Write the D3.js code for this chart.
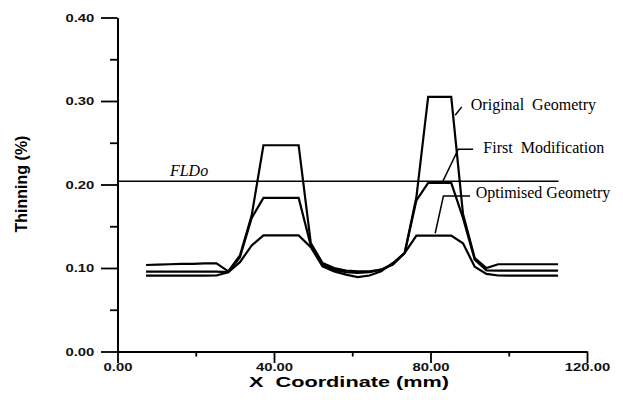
<!DOCTYPE html>
<html>
<head>
<meta charset="utf-8">
<script src="https://cdn.jsdelivr.net/npm/d3@7"></script>
<style>
body { margin: 0; background: #fff; }
</style>
</head>
<body>
<script>
// node positions along the section (mm)
var xNodes = [7.3, 10.3, 13.3, 16.3, 19.3, 22.3, 25.3, 28.3, 31.3, 34.3,
	37.3, 40.3, 43.3, 46.3, 49.4, 52.4, 55.4, 58.4, 61.4, 64.4,
	67.4, 70.4, 73.4, 76.4, 79.4, 82.3, 85.3, 88.3, 91.3, 94.3,
	97.3, 100.3, 103.3, 106.3, 109.3, 112.6];

var originalGeometry = [0.1036, 0.104, 0.1045, 0.105, 0.105, 0.1055, 0.1055, 0.096, 0.115, 0.163,
	0.247, 0.247, 0.247, 0.247, 0.130, 0.106, 0.100, 0.097, 0.096, 0.096,
	0.098, 0.104, 0.118, 0.185, 0.305, 0.305, 0.305, 0.165, 0.112, 0.100,
	0.1045, 0.1045, 0.1045, 0.1045, 0.1045, 0.1045];

var firstModification = [0.0956, 0.0956, 0.0956, 0.0956, 0.0956, 0.0956, 0.0956, 0.095, 0.113, 0.160,
	0.184, 0.184, 0.184, 0.184, 0.127, 0.104, 0.098, 0.095, 0.094, 0.095,
	0.098, 0.105, 0.118, 0.181, 0.202, 0.202, 0.202, 0.160, 0.110, 0.097,
	0.0968, 0.0968, 0.0968, 0.0968, 0.0968, 0.0968];

var optimisedGeometry = [0.0908, 0.0908, 0.0908, 0.0908, 0.0908, 0.0908, 0.091, 0.095, 0.107, 0.127,
	0.139, 0.139, 0.139, 0.139, 0.125, 0.102, 0.096, 0.092, 0.089, 0.091,
	0.096, 0.106, 0.118, 0.1387, 0.1387, 0.1387, 0.1387, 0.1296, 0.1016, 0.093,
	0.091, 0.0908, 0.0908, 0.0908, 0.0908, 0.0908];

var fldoValue = 0.204;
var fldoRange = [0, 112.7];

var xTicks = [0, 40, 80, 120];
var xMinorTicks = [20, 60, 100];
var yTicks = [0, 0.1, 0.2, 0.3, 0.4];
var yMinorTicks = [0.05, 0.15, 0.25, 0.35];

var labelNames = ["Original  Geometry", "First  Modification", "Optimised Geometry"];
var labelX = [90.3, 93.5, 91.55];
var labelY = [0.289, 0.2374, 0.1835];

var pointerOriginal = [[86.3, 0.283], [88.0, 0.293]];
var pointerFirst = [[82.9, 0.2014], [87.1, 0.2422], [90.9, 0.2422]];
var pointerOptimised = [[81.2, 0.1416], [83.3, 0.1862], [90.1, 0.1862]];

var canvasWidth = 623;
var canvasHeight = 400;
var margin = {top: 17.5, right: 36, bottom: 48.5, left: 117.5};

var svg = d3.select("body").append("svg")
	.attr("width", canvasWidth)
	.attr("height", canvasHeight);

var xScale = d3.scaleLinear()
	.domain([0, 120])
	.range([margin.left, canvasWidth - margin.right]);

var yScale = d3.scaleLinear()
	.domain([0, 0.4])
	.range([canvasHeight - margin.bottom, margin.top]);

function styleAxis(g) {
	g.select(".domain").attr("stroke", "#000").attr("stroke-width", 2);
	g.selectAll(".tick line").attr("stroke", "#000").attr("stroke-width", 1.8);
	g.selectAll(".tick text")
		.attr("fill", "#111")
		.style("font-family", "'Liberation Sans', Arial, sans-serif")
		.style("font-weight", "bold")
		.style("font-size", "11px");
}

// x axis, major + minor
var xAxisG = svg.append("g")
	.attr("transform", "translate(0," + yScale(0) + ")")
	.call(d3.axisBottom(xScale)
		.tickValues(xTicks)
		.tickSize(11.5)
		.tickSizeOuter(0)
		.tickPadding(0)
		.tickFormat(d3.format(".2f")));
styleAxis(xAxisG);
xAxisG.selectAll(".tick text").attr("transform", "scale(1.35,1)");

var xMinorG = svg.append("g")
	.attr("transform", "translate(0," + yScale(0) + ")")
	.call(d3.axisBottom(xScale).tickValues(xMinorTicks).tickSize(5).tickFormat(""));
xMinorG.select(".domain").remove();
styleAxis(xMinorG);

// y axis, major + minor
var yAxisG = svg.append("g")
	.attr("transform", "translate(" + xScale(0) + ",0)")
	.call(d3.axisLeft(yScale)
		.tickValues(yTicks)
		.tickSize(16.5)
		.tickSizeOuter(0)
		.tickFormat(d3.format(".2f")));
styleAxis(yAxisG);
yAxisG.selectAll(".tick text")
	.attr("x", -23.2 / 1.35)
	.attr("transform", "scale(1.35,1)");

var yMinorG = svg.append("g")
	.attr("transform", "translate(" + xScale(0) + ",0)")
	.call(d3.axisLeft(yScale).tickValues(yMinorTicks).tickSize(7.5).tickFormat(""));
yMinorG.select(".domain").remove();
styleAxis(yMinorG);

// axis titles
svg.append("text")
	.attr("transform", "translate(349," + 386.5 + ") scale(1.55,1)")
	.attr("text-anchor", "middle")
	.style("font-family", "'Liberation Sans', Arial, sans-serif")
	.style("font-weight", "bold")
	.style("font-size", "14px")
	.style("white-space", "pre")
	.text("X  Coordinate (mm)");

svg.append("text")
	.attr("transform", "translate(27," + 184 + ") rotate(-90)")
	.attr("text-anchor", "middle")
	.style("font-family", "'Liberation Sans', Arial, sans-serif")
	.style("font-weight", "bold")
	.style("font-size", "16px")
	.text("Thinning (%)");

// curves
var line = d3.line()
	.x(function(d, i) { return xScale(xNodes[i]); })
	.y(function(d) { return yScale(d); });

[originalGeometry, firstModification, optimisedGeometry].forEach(function(series) {
	svg.append("path")
		.datum(series)
		.attr("fill", "none")
		.attr("stroke", "#000")
		.attr("stroke-width", 2.2)
		.attr("d", line);
});

// FLDo limit
svg.append("line")
	.attr("x1", xScale(fldoRange[0]))
	.attr("x2", xScale(fldoRange[1]))
	.attr("y1", yScale(fldoValue))
	.attr("y2", yScale(fldoValue))
	.attr("stroke", "#000")
	.attr("stroke-width", 1.5);

svg.append("text")
	.attr("x", xScale(13.4))
	.attr("y", yScale(0.2102))
	.style("font-family", "'Liberation Serif', 'Times New Roman', serif")
	.style("font-style", "italic")
	.style("font-size", "16px")
	.text("FLDo");

// annotations
var pointerLine = d3.line()
	.x(function(d) { return xScale(d[0]); })
	.y(function(d) { return yScale(d[1]); });

[pointerOriginal, pointerFirst, pointerOptimised].forEach(function(p) {
	svg.append("path")
		.datum(p)
		.attr("fill", "none")
		.attr("stroke", "#000")
		.attr("stroke-width", 1.5)
		.attr("d", pointerLine);
});

svg.selectAll(".seriesLabel")
	.data(labelNames)
	.enter()
	.append("text")
	.attr("class", "seriesLabel")
	.attr("x", function(d, i) { return xScale(labelX[i]); })
	.attr("y", function(d, i) { return yScale(labelY[i]); })
	.style("font-family", "'Liberation Serif', 'Times New Roman', serif")
	.style("font-size", "16px")
	.style("white-space", "pre")
	.text(function(d) { return d; });
</script>
</body>
</html>
